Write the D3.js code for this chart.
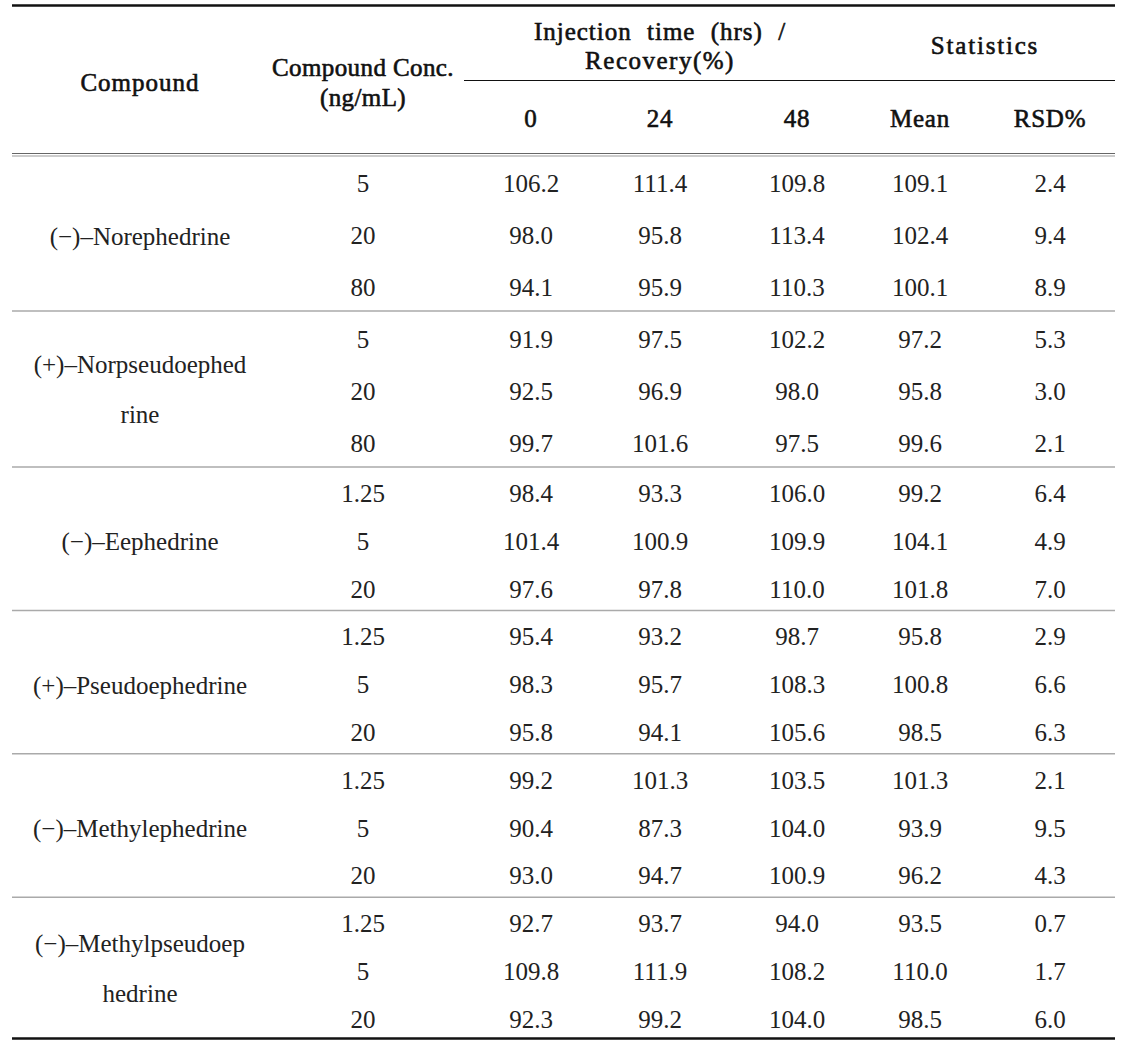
<!DOCTYPE html>
<html><head><meta charset="utf-8">
<script src="https://cdn.jsdelivr.net/npm/d3@7"></script>
<style>html,body{margin:0;padding:0;background:#fff;}</style>
</head><body>
<svg id="chart" width="1136" height="1056"></svg>
<script>
// ---- data ----
const compoundLines = [
  ["(−)–Norephedrine"],
  ["(+)–Norpseudoephed", "rine"],
  ["(−)–Eephedrine"],
  ["(+)–Pseudoephedrine"],
  ["(−)–Methylephedrine"],
  ["(−)–Methylpseudoep", "hedrine"]
];
const concentrations = [
  ["5", "20", "80"],
  ["5", "20", "80"],
  ["1.25", "5", "20"],
  ["1.25", "5", "20"],
  ["1.25", "5", "20"],
  ["1.25", "5", "20"]
];
const rec0  = [106.2, 98.0, 94.1, 91.9, 92.5, 99.7, 98.4, 101.4, 97.6, 95.4, 98.3, 95.8, 99.2, 90.4, 93.0, 92.7, 109.8, 92.3];
const rec24 = [111.4, 95.8, 95.9, 97.5, 96.9, 101.6, 93.3, 100.9, 97.8, 93.2, 95.7, 94.1, 101.3, 87.3, 94.7, 93.7, 111.9, 99.2];
const rec48 = [109.8, 113.4, 110.3, 102.2, 98.0, 97.5, 106.0, 109.9, 110.0, 98.7, 108.3, 105.6, 103.5, 104.0, 100.9, 94.0, 108.2, 104.0];
const means = [109.1, 102.4, 100.1, 97.2, 95.8, 99.6, 99.2, 104.1, 101.8, 95.8, 100.8, 98.5, 101.3, 93.9, 96.2, 93.5, 110.0, 98.5];
const rsds  = [2.4, 9.4, 8.9, 5.3, 3.0, 2.1, 6.4, 4.9, 7.0, 2.9, 6.6, 6.3, 2.1, 9.5, 4.3, 0.7, 1.7, 6.0];
const headerCompound = "Compound";
const headerConc = ["Compound Conc.", "(ng/mL)"];
const headerInjection = ["Injection time (hrs) /", "Recovery(%)"];
const headerStats = "Statistics";
const subHeaders = ["0", "24", "48", "Mean", "RSD%"];

// ---- layout ----
const svg = d3.select("#chart");
const L = 12, R = 1115;
const colX = {compound: 140, conc: 363, c0: 531, c24: 660, c48: 797, mean: 920, rsd: 1050};
const bodyTop = 155;
const groupRowH = [52, 52, 47.8, 47.8, 47.8, 47.8];
const serif = "'Liberation Serif', 'Times New Roman', serif";

const groupTops = [];
let acc = bodyTop;
groupRowH.forEach(h => { groupTops.push(acc); acc += h * 3; });
const bodyBottom = acc;

const rows = [];
concentrations.forEach((cs, g) => cs.forEach((c, i) => rows.push({g, i, conc: c})));
rows.forEach((r, k) => {
  r.y = groupTops[r.g] + groupRowH[r.g] * (r.i + 0.5) + 2.5;
  r.vals = [rec0[k], rec24[k], rec48[k], means[k], rsds[k]];
});

const line = (x1, x2, y, color, w) => svg.append("line")
  .attr("x1", x1).attr("x2", x2).attr("y1", y).attr("y2", y)
  .attr("stroke", color).attr("stroke-width", w);

// rules
line(L, R, 5.5, "#111", 2.5);
line(464, R, 80.5, "#111", 1.2);
line(L, R, 153.5, "#666", 1.2);
line(L, R, 156, "#bbb", 1.5);
groupTops.slice(1).forEach(t => line(L, R, t, "#aaa", 1.5));
line(L, R, bodyBottom - 2, "#111", 2.5);

// header text
const hdr = (txt, x, y, ls, ws) => svg.append("text").attr("x", x).attr("y", y)
  .attr("text-anchor", "middle").attr("dominant-baseline", "central")
  .attr("font-family", serif).attr("font-weight", "normal").attr("font-size", 25)
  .attr("letter-spacing", ls || 0).attr("word-spacing", ws || 0)
  .attr("fill", "#111").attr("stroke", "#111").attr("stroke-width", 0.6)
  .text(txt);
hdr(headerCompound, colX.compound, 82, 1);
hdr(headerConc[0], colX.conc, 67, 0.4);
hdr(headerConc[1], colX.conc, 97, 0.4);
hdr(headerInjection[0], colX.c24, 31, 1, 8);
hdr(headerInjection[1], colX.c24, 60, 1.5);
hdr(headerStats, (colX.mean + colX.rsd) / 2, 45, 1.8);
const subX = [colX.c0, colX.c24, colX.c48, colX.mean, colX.rsd];
subHeaders.forEach((s, i) => hdr(s, subX[i], 118, 0.8));

// body text
const txt = (t, x, y) => svg.append("text").attr("x", x).attr("y", y)
  .attr("text-anchor", "middle").attr("dominant-baseline", "central")
  .attr("font-family", serif).attr("font-size", 25)
  .attr("fill", "#222").text(t);

compoundLines.forEach((lines, g) => {
  const lh = 50;
  const cy = groupTops[g] + groupRowH[g] * 1.5 + (lines.length > 1 ? 0 : 3);
  lines.forEach((ln, j) => txt(ln, colX.compound, cy + (j - (lines.length - 1) / 2) * lh));
});

svg.append("g").selectAll("text.conc").data(rows).join("text")
  .attr("x", colX.conc).attr("y", d => d.y)
  .attr("text-anchor", "middle").attr("dominant-baseline", "central")
  .attr("font-family", serif).attr("font-size", 25).attr("fill", "#222")
  .text(d => d.conc);

const fmt = d3.format(".1f");
rows.forEach(r => {
  r.vals.forEach((v, i) => txt(fmt(v), subX[i], r.y));
});
</script>
</body></html>
